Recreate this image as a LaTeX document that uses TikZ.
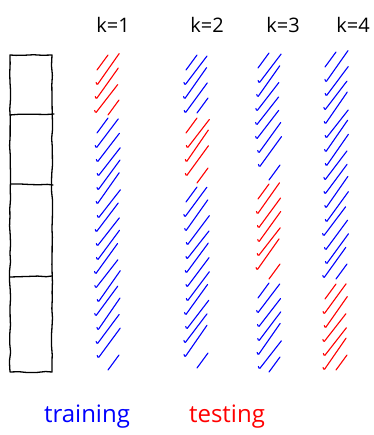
\documentclass[tikz,border=0pt]{standalone}
\usepackage{fontspec}
\setmainfont{Open Sans}
\usetikzlibrary{decorations.pathmorphing}

\begin{document}
\begin{tikzpicture}[x=1pt,y=-1pt]
    \tikzstyle{sketch}=[line width=1.3pt,line cap=round,line join=round,decorate,
        decoration={random steps,segment length=9pt,amplitude=0.6pt}]
    \tikzstyle{hatchline}=[line width=1.1pt,line cap=round,rounded corners=1pt]
    \tikzstyle{foldlabel}=[font=\fontsize{20}{24}\selectfont,anchor=base]
    \tikzstyle{legendtext}=[font=\fontsize{24}{28}\selectfont,anchor=base]
    \pgfmathsetseed{7}
    \useasboundingbox (0,0) rectangle (373,435);
    % Data bar
    \draw[sketch] (10,55) rectangle (52,372);
    \draw[sketch] (10,115) -- (54,114);
    \draw[sketch] (11,184) -- (53,185);
    \draw[sketch] (10,277) -- (52,276);
    % Folds
    \foreach \xl/\ya/\yb/\col in {97/55/115/red, 97/118/370/blue,
        186/55/113/blue, 186/118/183/red, 186/187/368/blue,
        258/53/180/blue, 258/184/279/red, 258/283/372/blue,
        325/52/279/blue, 325/284/370/red} {
        \pgfmathtruncatemacro\ys{\ya+30}
        \pgfmathtruncatemacro\yt{\ya+44}
        \draw[hatchline,\col] (\xl,\ya+15) -- (\xl+11,\ya);
        \foreach \y in {\ys,\yt,...,\yb} {
            \pgfmathsetmacro\dx{rand*1.5}
            \pgfmathsetmacro\dy{rand*2}
            \draw[hatchline,\col] (\xl+\dx-1,\y-2.5) -- (\xl+\dx,\y) -- (\xl+\dx+22,\y-30+\dy);
        }
        \draw[hatchline,\col] (\xl+11,\yb) -- (\xl+22,\yb-15);
    }
    % Labels
    \node[foldlabel] (k1) at (113,33) {k=1};
    \node[foldlabel] (k2) at (207,33) {k=2};
    \node[foldlabel] (k3) at (283,33) {k=3};
    \node[foldlabel] (k4) at (353,33) {k=4};
    \node[legendtext,blue] (train) at (87,422) {training};
    \node[legendtext,red] (test) at (227,422) {testing};
\end{tikzpicture}
\end{document}
